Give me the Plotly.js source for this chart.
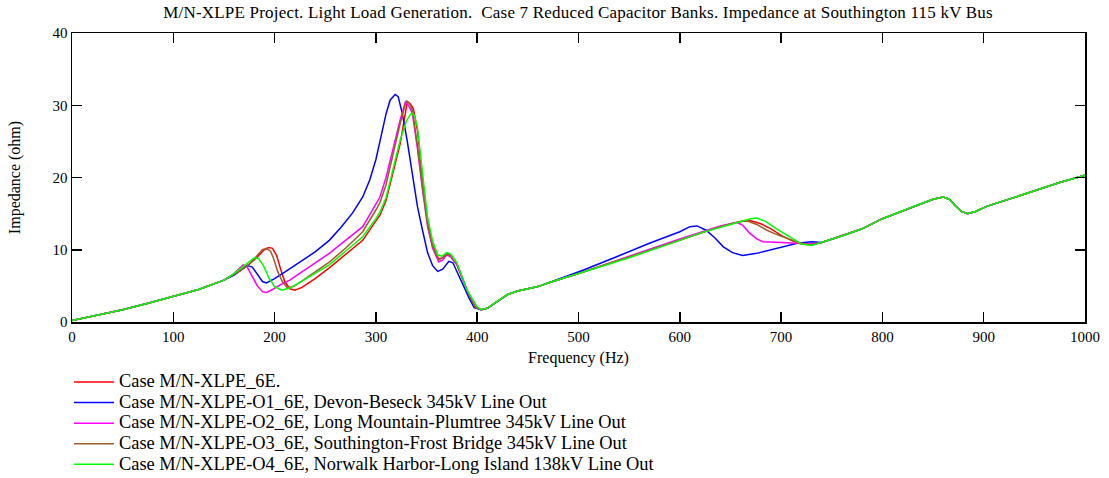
<!DOCTYPE html>
<html><head><meta charset="utf-8">
<script src="https://cdn.plot.ly/plotly-3.0.1.min.js"></script>
<style>
body{margin:0;background:#fff}#chart{width:1109px;height:478px}
.legendtext{font-size:18.4px !important}
.gtitle{letter-spacing:0.2px}
</style>
</head><body><div id="chart"></div>
<script>
// Series names
const seriesNames = [
  "Case M/N-XLPE_6E.",
  "Case M/N-XLPE-O1_6E, Devon-Beseck 345kV Line Out",
  "Case M/N-XLPE-O2_6E, Long Mountain-Plumtree 345kV Line Out",
  "Case M/N-XLPE-O3_6E, Southington-Frost Bridge 345kV Line Out",
  "Case M/N-XLPE-O4_6E, Norwalk Harbor-Long Island 138kV Line Out"
];
const seriesColors = ["#ff0000", "#0000ff", "#ff00ff", "#a05a2c", "#00ff00"];

// Common low-frequency part
const freqLow = [0, 25, 50, 75, 100, 125, 150];
const zLow    = [0.2, 0.9, 1.7, 2.6, 3.5, 4.5, 5.8];

// Common high-frequency tail
const freqTail = [740, 760, 780, 800, 820, 840, 850, 860, 866, 872, 878, 884, 892, 903, 920, 950, 975, 1000];
const zTail    = [11.0, 11.9, 12.9, 14.3, 15.4, 16.5, 17.0, 17.3, 17.0, 16.1, 15.3, 15.0, 15.3, 16.0, 16.8, 18.2, 19.3, 20.3];

// Red: base case
const freqRed = [165,175,183,189,194,198,202,206,210,215,220,227,240,254,270,287,300,304,310,317,324,328,331,334,337,341,346,351,356,362,366,370,374,380,390,398,404,410,420,430,440,450,460,470,500,550,600,640,660,670,680,690,700,710,720,730];
const zRed    = [7.0,8.0,9.0,9.9,10.3,10.2,9.2,7.3,5.6,4.6,4.4,4.8,6.0,7.5,9.4,11.3,14.0,14.8,16.8,20.6,24.7,28.0,30.5,30.2,29.5,26.5,19.7,14.1,10.6,8.7,8.9,9.5,9.2,8.0,4.4,2.1,1.7,1.9,2.9,3.8,4.3,4.6,4.9,5.4,6.7,9.0,11.3,13.2,13.9,14.0,13.6,12.9,12.0,11.3,10.8,10.7];

// Blue: O1
const freqBlue = [160,168,173,178,183,188,192,200,210,220,230,240,254,265,277,287,294,300,304,310,314,319,322,326,331,336,341,346,351,356,361,366,372,376,381,386,392,397,404,410,420,430,440,450,460,470,505,537,570,600,610,617,626,635,643,652,662,676,690,702,716,730];
const zBlue    = [6.5,7.3,7.8,7.6,6.6,5.6,5.4,6.0,6.9,7.8,8.7,9.7,11.3,13.0,15.1,17.3,19.7,22.5,25.0,28.8,30.7,31.5,31.2,28.9,25.0,20.6,16.0,12.7,9.6,7.8,7.0,7.3,8.4,8.2,6.6,5.0,3.3,2.0,1.7,1.9,2.9,3.8,4.3,4.6,4.9,5.4,7.2,9.0,10.9,12.5,13.2,13.3,12.7,11.6,10.4,9.6,9.2,9.5,10.0,10.4,10.9,11.1];

// Magenta: O2
const freqMag = [160,165,169,173,178,183,188,192,198,205,215,230,254,270,287,300,304,310,317,324,329,332,336,341,346,351,356,362,366,370,374,380,390,398,404,410,420,430,440,450,460,470,500,550,600,640,656,662,669,676,682,700,715,730];
const zMag    = [6.7,7.4,7.9,7.6,6.4,5.0,4.2,4.1,4.5,5.1,5.8,7.2,9.5,11.3,13.2,16.3,17.3,20.0,24.2,28.0,30.4,30.0,28.9,24.0,18.3,13.2,10.2,8.3,8.6,9.3,9.0,7.9,4.4,2.1,1.7,1.9,2.9,3.8,4.3,4.6,4.9,5.4,6.7,9.1,11.5,13.3,13.8,13.4,12.3,11.5,11.1,11.0,10.9,10.8];

// Brown: O3
const freqBrown = [165,175,183,188,192,196,199,203,208,213,220,230,240,254,270,287,300,304,310,317,324,330,333,336,341,346,351,356,362,366,370,374,380,390,398,404,410,420,430,440,450,460,470,500,550,600,640,660,666,676,686,694,702,710,719,730];
const zBrown    = [7.0,8.0,9.2,10.0,10.2,9.8,8.8,7.0,5.5,4.7,5.0,6.0,7.0,8.3,10.2,12.5,15.5,16.5,19.0,23.3,27.5,30.6,30.3,29.3,24.5,18.7,13.6,10.5,8.6,8.9,9.4,9.2,8.0,4.4,2.1,1.7,1.9,2.9,3.8,4.3,4.6,4.9,5.4,6.7,9.0,11.3,13.2,13.9,14.0,13.5,12.7,12.2,11.8,11.3,10.9,10.7];

// Green: O4
const freqGreen = [160,170,176,180,184,189,194,200,207,215,230,254,270,287,300,304,310,317,324,330,335,338,341,346,351,356,361,365,370,374,380,390,400,404,410,420,430,440,450,460,470,500,550,600,620,650,670,676,685,692,702,712,720,730];
const zGreen    = [6.7,7.8,8.5,8.9,8.8,7.8,6.2,4.9,4.4,4.7,5.9,7.9,9.8,11.8,14.3,15.2,17.2,21.0,25.2,27.8,28.9,28.6,27.0,20.6,14.5,11.2,9.3,9.1,9.6,9.4,8.2,4.4,2.1,1.7,1.9,2.9,3.8,4.3,4.6,4.9,5.4,6.7,8.9,11.3,12.3,13.5,14.3,14.4,13.9,13.2,12.3,11.4,10.8,10.6];

const midFreqs = [freqRed, freqBlue, freqMag, freqBrown, freqGreen];
const midZs    = [zRed, zBlue, zMag, zBrown, zGreen];

const traces = seriesNames.map((name, i) => ({
  type: "scatter", mode: "lines", name: name,
  x: freqLow.concat(midFreqs[i], freqTail),
  y: zLow.concat(midZs[i], zTail),
  line: {color: seriesColors[i], width: 1.5},
  hoverinfo: "skip"
}));

const fam = "Liberation Serif, Times New Roman, serif";
const f15 = {family: fam, size: 15, color: "#000"};
const f16 = {family: fam, size: 16, color: "#000"};

const layout = {
  width: 1109, height: 478,
  margin: {l: 72, r: 24, t: 33, b: 156, autoexpand: false},
  paper_bgcolor: "#fff", plot_bgcolor: "#fff",
  font: f15,
  showlegend: true,
  title: {text: "M/N-XLPE Project. Light Load Generation.\u00A0 Case 7 Reduced Capacitor Banks. Impedance at Southington 115 kV Bus",
          font: {family: fam, size: 17, color: "#000"}, x: 0.5212, xanchor: "center", xref: "container",
          y: 0.975, yanchor: "middle"},
  xaxis: {
    range: [0, 1000], tickvals: [0,100,200,300,400,500,600,700,800,900,1000],
    ticks: "inside", ticklen: 10, tickwidth: 1.5, tickcolor: "#000",
    showline: true, linecolor: "#000", linewidth: 1.5, mirror: "ticks",
    showgrid: false, zeroline: false, automargin: true,
    tickfont: f15,
    title: {text: "Frequency (Hz)", font: f16, standoff: 8}
  },
  yaxis: {
    range: [0, 40], tickvals: [0,10,20,30,40],
    ticks: "inside", ticklen: 10, tickwidth: 1.5, tickcolor: "#000",
    showline: true, linecolor: "#000", linewidth: 1.5, mirror: "ticks",
    showgrid: false, zeroline: false, automargin: true,
    tickfont: f15,
    title: {text: "Impedance (ohm)", font: f16, standoff: 28}
  },
  legend: {
    x: -0.003, xanchor: "left", y: -0.155, yanchor: "top",
    font: {family: fam, size: 13.5, color: "#000"},
    bgcolor: "rgba(0,0,0,0)", borderwidth: 0, itemwidth: 40,
    tracegroupgap: 0
  }
};

Plotly.newPlot("chart", traces, layout, {staticPlot: true, displayModeBar: false});
</script>
</body></html>
